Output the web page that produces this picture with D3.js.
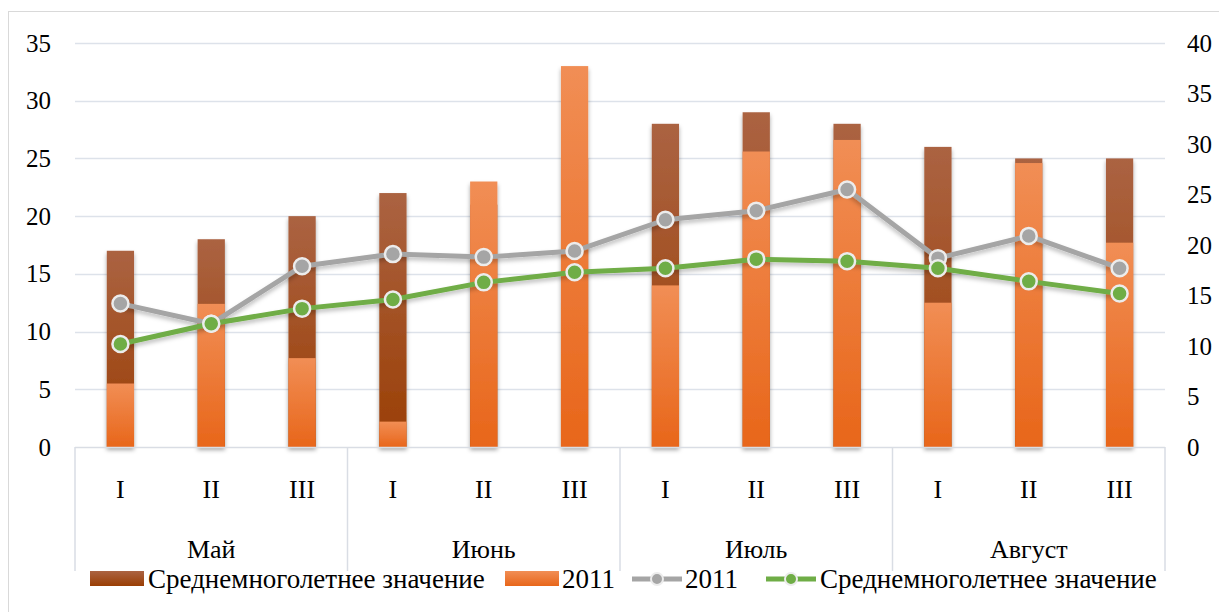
<!DOCTYPE html>
<html><head><meta charset="utf-8">
<script src="https://cdn.jsdelivr.net/npm/d3@7"></script>
<style>
html,body{margin:0;padding:0;background:#fff;}
svg text{font-family:"Liberation Serif","Times New Roman",serif;fill:#000;}
</style></head>
<body>
<svg id="chart" width="1219" height="612"></svg>
<script>
const decades = ["I","II","III","I","II","III","I","II","III","I","II","III"];
const months = ["Май","Июнь","Июль","Август"];
// bars (left axis)
const barMean = [17, 18, 20, 22, 21, 25, 28, 29, 28, 26, 25, 25];
const bar2011 = [5.5, 12.4, 7.7, 2.2, 23, 33, 14, 25.6, 26.6, 12.5, 24.6, 17.7];
// lines (right axis)
const line2011 = [14.2, 12.2, 17.9, 19.1, 18.8, 19.4, 22.5, 23.4, 25.5, 18.7, 20.9, 17.7];
const lineMean = [10.2, 12.2, 13.7, 14.6, 16.3, 17.3, 17.7, 18.6, 18.4, 17.7, 16.4, 15.2];
const leftTicks = [0,5,10,15,20,25,30,35];
const rightTicks = [0,5,10,15,20,25,30,35,40];
const legendLabels = ["Среднемноголетнее значение","2011","2011","Среднемноголетнее значение"];

const FONT = "'Liberation Serif','Times New Roman',serif";
const svg = d3.select("#chart");
const L = 75, R = 1165, T = 43, B = 447;
const idx = d3.range(decades.length);
const x = d3.scaleBand().domain(idx).range([L, R]).padding(0);
const yL = d3.scaleLinear().domain([0,35]).range([B, T]);
const yR = d3.scaleLinear().domain([0,40]).range([B, T]);

const defs = svg.append("defs");
function grad(id, c1, c2){
  const g = defs.append("linearGradient").attr("id", id).attr("x1",0).attr("y1",0).attr("x2",0).attr("y2",1);
  g.append("stop").attr("offset","0%").attr("stop-color",c1);
  g.append("stop").attr("offset","100%").attr("stop-color",c2);
}
grad("gBrown","#ab6342","#9a3e04");
grad("gOrange","#f18e55","#e8661a");
const f = defs.append("filter").attr("id","shadow").attr("x","-30%").attr("y","-30%").attr("width","160%").attr("height","160%");
f.append("feDropShadow").attr("dx",0).attr("dy",3).attr("stdDeviation",2).attr("flood-color","#000").attr("flood-opacity",0.35);
const fl = defs.append("filter").attr("id","lshadow").attr("x","-10%").attr("y","-30%").attr("width","120%").attr("height","160%");
fl.append("feDropShadow").attr("dx",0).attr("dy",3).attr("stdDeviation",2).attr("flood-color","#000").attr("flood-opacity",0.25);

// outer border
svg.append("rect").attr("x",8.5).attr("y",11.5).attr("width",1240).attr("height",640)
  .attr("fill","none").attr("stroke","#d9d9d9");

// gridlines
svg.append("g").selectAll("line").data(leftTicks.filter(d=>d>0)).join("line")
  .attr("x1",L).attr("x2",R).attr("y1",d=>Math.round(yL(d))+0.5).attr("y2",d=>Math.round(yL(d))+0.5)
  .attr("stroke","#dde2ea").attr("stroke-width",1.5);

// left axis labels
svg.append("g").selectAll("text").data(leftTicks).join("text")
  .attr("font-family",FONT)
  .attr("x",51).attr("y",d=>yL(d)).attr("text-anchor","end").attr("dominant-baseline","central")
  .attr("font-size",25).text(d=>d);
// right axis labels
svg.append("g").selectAll("text").data(rightTicks).join("text")
  .attr("font-family",FONT)
  .attr("x",1187).attr("y",d=>yR(d)).attr("text-anchor","start").attr("dominant-baseline","central")
  .attr("font-size",25).text(d=>d);

// bars
const bw = x.bandwidth()*0.3;
const bars = svg.append("g").attr("filter","url(#shadow)");
bars.selectAll("rect.m").data(idx).join("rect").attr("class","m")
  .attr("x",i=>x(i)+x.bandwidth()/2-bw/2).attr("width",bw)
  .attr("y",i=>yL(barMean[i])).attr("height",i=>B-yL(barMean[i]))
  .attr("fill","url(#gBrown)");
bars.selectAll("rect.o").data(idx).join("rect").attr("class","o")
  .attr("x",i=>x(i)+x.bandwidth()/2-bw/2).attr("width",bw)
  .attr("y",i=>yL(bar2011[i])).attr("height",i=>B-yL(bar2011[i]))
  .attr("fill","url(#gOrange)");

// category axis
const ax = svg.append("g").attr("stroke","#d9dde4").attr("stroke-width",1.5);
ax.append("line").attr("x1",L).attr("x2",R).attr("y1",B+0.5).attr("y2",B+0.5);
const seps = d3.range(months.length+1).map(k=>k*3);
ax.selectAll("line.s").data(seps).join("line").attr("class","s")
  .attr("x1",k=> k<12 ? x(k) : R).attr("x2",k=> k<12 ? x(k) : R)
  .attr("y1",B).attr("y2",571);
svg.append("g").selectAll("text").data(idx).join("text")
  .attr("font-family",FONT)
  .attr("x",i=>x(i)+x.bandwidth()/2).attr("y",489).attr("text-anchor","middle").attr("dominant-baseline","central")
  .attr("font-size",26).text(i=>decades[i]);
svg.append("g").selectAll("text").data(months).join("text")
  .attr("font-family",FONT)
  .attr("x",(d,k)=>(x(k*3)+x(k*3+2)+x.bandwidth())/2).attr("y",549).attr("text-anchor","middle").attr("dominant-baseline","central")
  .attr("font-size",26).text(d=>d);

// lines
function drawLine(data, color){
  const cx = i=>x(i)+x.bandwidth()/2;
  const g = svg.append("g");
  g.append("path").datum(idx).attr("fill","none").attr("stroke",color).attr("stroke-width",5)
    .attr("stroke-linejoin","round").attr("filter","url(#lshadow)")
    .attr("d", d3.line().x(cx).y(i=>yR(data[i])));
  g.selectAll("circle").data(idx).join("circle").attr("cx",cx).attr("cy",i=>yR(data[i])).attr("r",8)
    .attr("fill",color).attr("stroke","#ececec").attr("stroke-width",2.5);
}
drawLine(line2011, "#a5a5a5");
drawLine(lineMean, "#6fad46");

// legend
const lg = svg.append("g");
const ly = 579;
function legText(x0, t){
  lg.append("text").attr("font-family",FONT).attr("x",x0).attr("y",ly).attr("dominant-baseline","central").attr("font-size",27).text(t);
}
lg.append("rect").attr("x",90).attr("y",571).attr("width",54).attr("height",15).attr("fill","url(#gBrown)");
legText(148, legendLabels[0]);
lg.append("rect").attr("x",505).attr("y",571).attr("width",54).attr("height",15).attr("fill","url(#gOrange)");
legText(562, legendLabels[1]);
function legLine(x0, color){
  lg.append("line").attr("x1",x0).attr("x2",x0+50).attr("y1",ly).attr("y2",ly).attr("stroke",color).attr("stroke-width",5);
  lg.append("circle").attr("cx",x0+25).attr("cy",ly).attr("r",6).attr("fill",color).attr("stroke","#ececec").attr("stroke-width",2);
}
legLine(632, "#a5a5a5");
legText(685, legendLabels[2]);
legLine(766, "#6fad46");
legText(820, legendLabels[3]);
</script>
</body></html>
